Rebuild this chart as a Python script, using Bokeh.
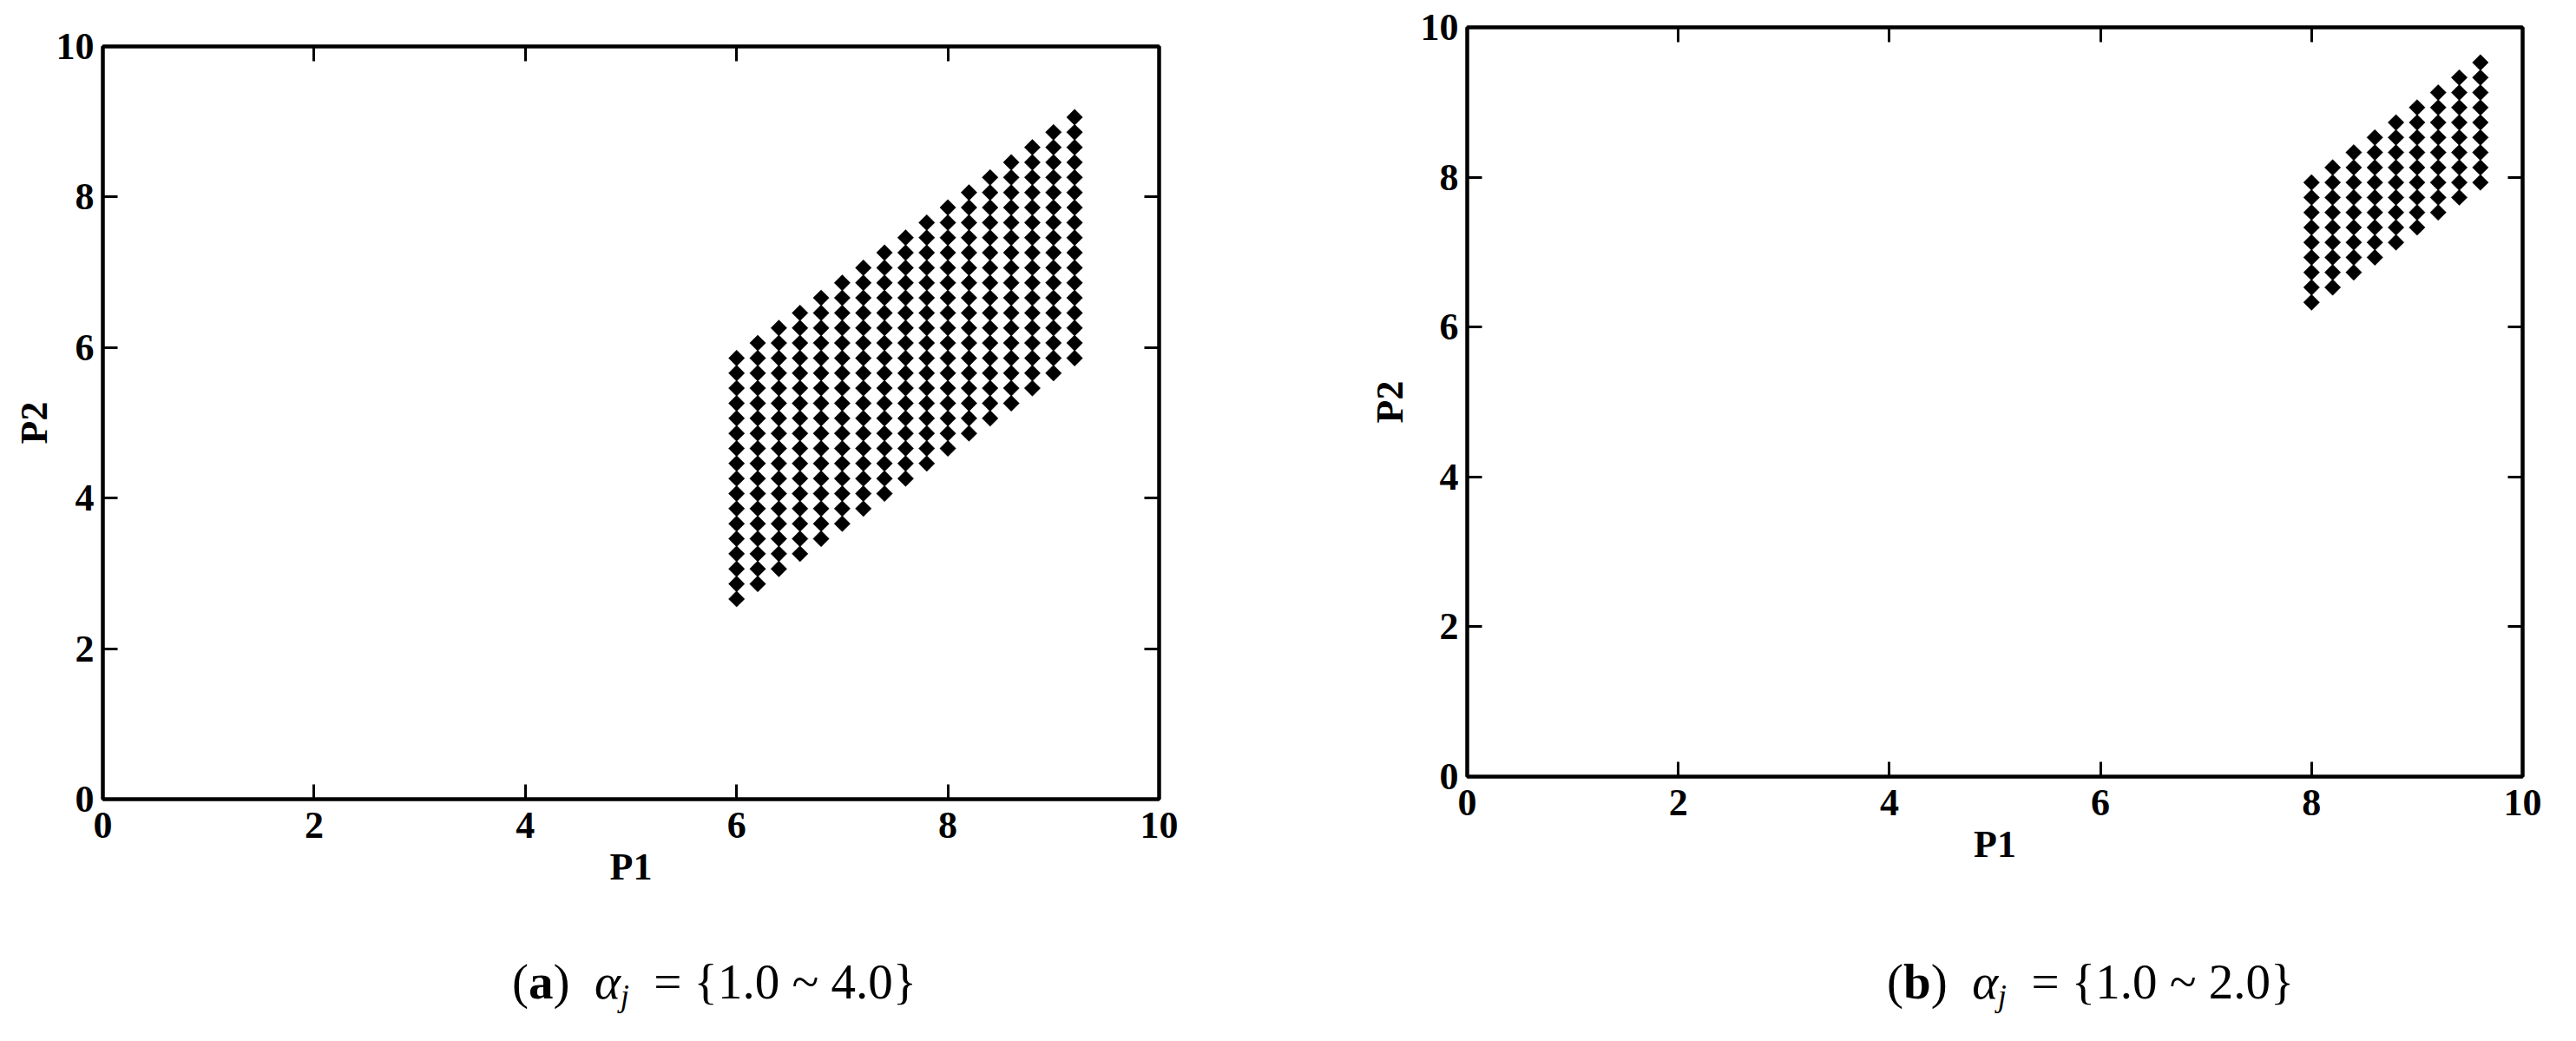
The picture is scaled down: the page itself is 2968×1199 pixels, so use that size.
import numpy as np
from bokeh.plotting import figure
from bokeh.models import Range1d, FixedTicker, LinearAxis, CustomJSTickFormatter, ColumnDataSource, Div
from bokeh.layouts import row, column
from bokeh.embed import file_html
from bokeh.resources import INLINE

# ---------------- data ----------------
axis_ticks = [0, 2, 4, 6, 8, 10]

# panel (a): alpha_j = {1.0 ~ 4.0}
p1_cols_a = [6.0, 6.2, 6.4, 6.6, 6.8, 7.0, 7.2, 7.4, 7.6, 7.8, 8.0, 8.2, 8.4, 8.6, 8.8, 9.0, 9.2]
p2_low_a = [2.66, 2.86, 3.06, 3.26, 3.46, 3.66, 3.86, 4.06, 4.26, 4.46, 4.66, 4.86, 5.06, 5.26, 5.46, 5.66, 5.86]
p2_steps_a = [0.0, 0.2, 0.4, 0.6, 0.8, 1.0, 1.2, 1.4, 1.6, 1.8, 2.0, 2.2, 2.4, 2.6, 2.8, 3.0, 3.2]

# panel (b): alpha_j = {1.0 ~ 2.0}
p1_cols_b = [8.0, 8.2, 8.4, 8.6, 8.8, 9.0, 9.2, 9.4, 9.6]
p2_low_b = [6.33, 6.53, 6.73, 6.93, 7.13, 7.33, 7.53, 7.73, 7.93]
p2_steps_b = [0.0, 0.2, 0.4, 0.6, 0.8, 1.0, 1.2, 1.4, 1.6]

FONT = "Liberation Serif"


def grid_points(cols, lows, steps):
    xs, ys = [], []
    for c, lo in zip(cols, lows):
        for s in steps:
            xs.append(c)
            ys.append(round(lo + s, 3))
    return xs, ys


def style_axis(ax, labels=True):
    ax.ticker = FixedTicker(ticks=axis_ticks)
    ax.minor_tick_line_color = None
    ax.major_tick_in = 17
    ax.major_tick_out = 0
    ax.major_tick_line_width = 3
    ax.major_tick_line_color = "black"
    ax.axis_line_width = 4
    ax.axis_line_color = "black"
    ax.major_label_text_font = FONT
    ax.major_label_text_font_style = "bold"
    ax.major_label_text_color = "black"
    ax.axis_label_text_font = FONT
    ax.axis_label_text_font_style = "bold"
    ax.axis_label_text_font_size = "44px"
    ax.axis_label_text_color = "black"
    ax.axis_label_standoff = 0
    if labels:
        ax.major_label_text_font_size = "44px"
        ax.major_label_standoff = 10
    else:
        ax.formatter = CustomJSTickFormatter(code="return ''")
        ax.major_label_text_font_size = "0px"
        ax.major_label_standoff = 0


def make_panel(xs, ys, fw, fh, borders, ylab_standoff):
    bl, br, bt, bb = borders
    p = figure(frame_width=fw, frame_height=fh, output_backend="svg", toolbar_location=None,
               x_range=Range1d(0, 10), y_range=Range1d(0, 10),
               min_border_left=bl, min_border_right=br, min_border_top=bt, min_border_bottom=bb,
               background_fill_color="white", border_fill_color="white")
    p.outline_line_color = "black"
    p.outline_line_width = 4
    p.xgrid.grid_line_color = None
    p.ygrid.grid_line_color = None
    style_axis(p.xaxis[0])
    style_axis(p.yaxis[0])
    p.xaxis[0].axis_label = "P1"
    p.xaxis[0].major_label_standoff = 15
    p.xaxis[0].axis_label_standoff = 6
    p.yaxis[0].axis_label = "P2"
    p.yaxis[0].axis_label_standoff = ylab_standoff
    top = LinearAxis()
    style_axis(top, labels=False)
    right = LinearAxis()
    style_axis(right, labels=False)
    p.add_layout(top, "above")
    p.add_layout(right, "right")

    src = ColumnDataSource(dict(x=xs, y=ys))
    p.scatter("x", "y", source=src, marker="square", angle=np.pi / 4, size=13,
              fill_color="black", line_color="black", line_width=0.5)
    return p


def caption(letter, rng, width, height, pad_left, pad_top):
    html = (
        f'<div style="font-family:\'Liberation Serif\',serif;font-size:57px;line-height:57px;'
        f'color:black;white-space:nowrap;padding-left:{pad_left}px;padding-top:{pad_top}px;">'
        f'(<b>{letter}</b>)&nbsp;&nbsp;<i>\u03b1<sub style="font-size:0.62em;vertical-align:-0.25em;">j</sub></i>'
        f'&nbsp;&nbsp;= {{1.0 ~ {rng}}}</div>'
    )
    return Div(text=html, width=width, height=height)


xa, ya = grid_points(p1_cols_a, p2_low_a, p2_steps_a)
xb, yb = grid_points(p1_cols_b, p2_low_b, p2_steps_b)

# panel a: frame x 118..1335, y 53..920 ; figure height 53+867+175 = 1095
pa = make_panel(xa, ya, 1217, 867, (118, 149, 53, 175), -2)
# panel b: frame x 1692..2908, y 31..894 ; figure height 31+863+175 = 1069
pb = make_panel(xb, yb, 1216, 863, (196, 64, 31, 175), 8)

cap_a = caption("a", "4.0", 1484, 95, 585, 2)
cap_b = caption("b", "2.0", 1476, 121, 675, 28)

layout = row(column(pa, cap_a), column(pb, cap_b))
open("out.html", "w").write(file_html(layout, INLINE))
